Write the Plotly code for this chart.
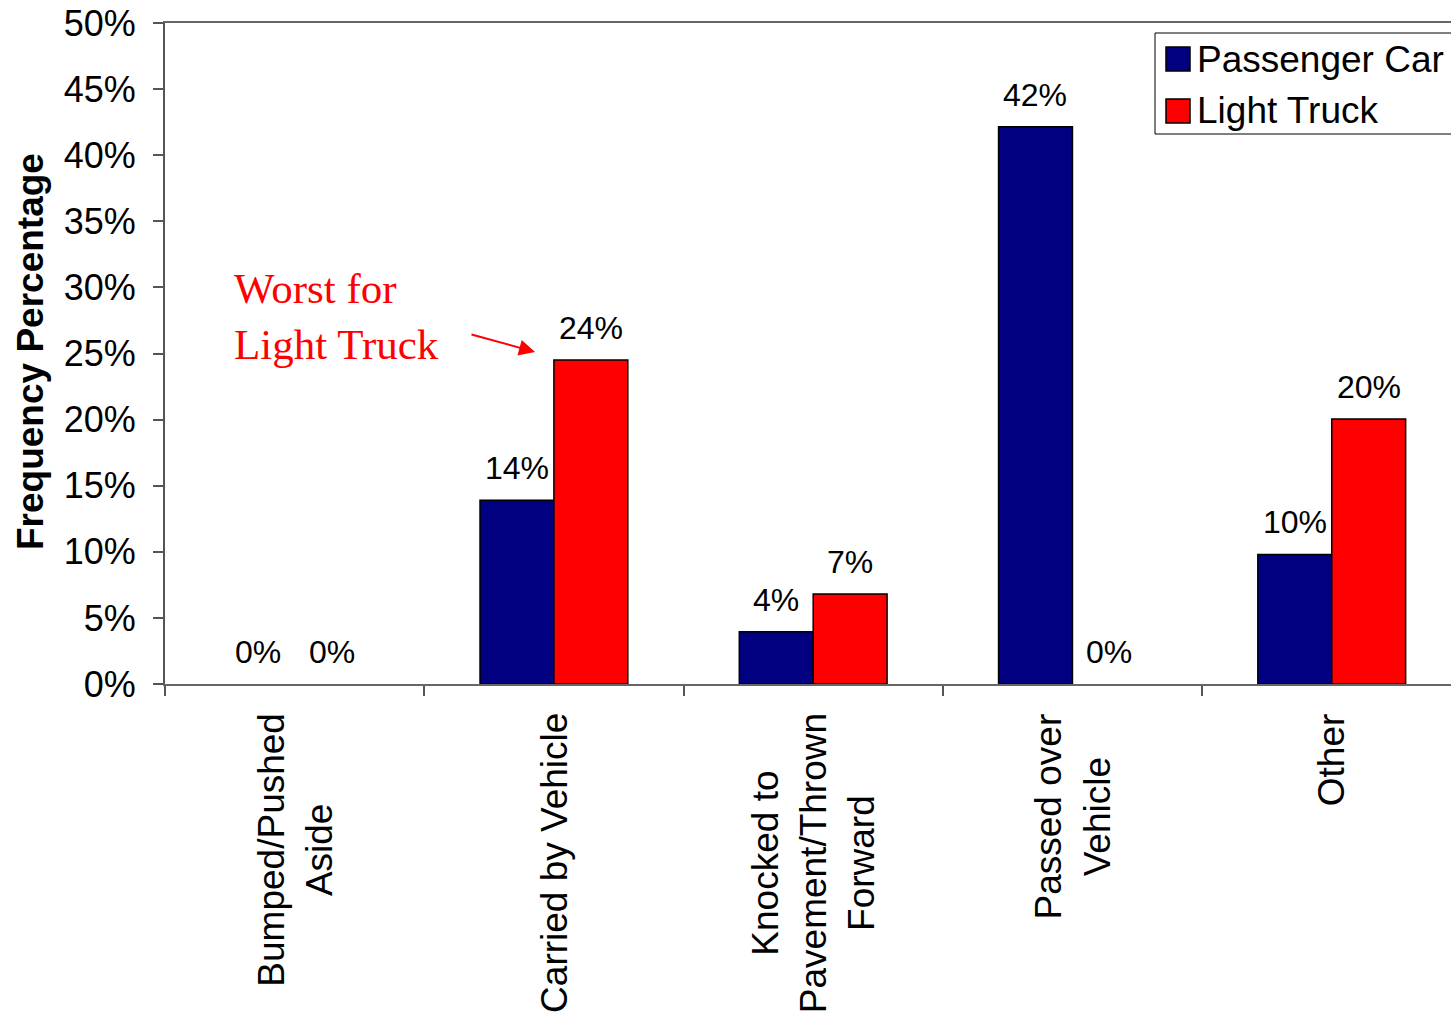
import plotly.graph_objects as go

categories = ["Bumped/Pushed<br>Aside", "Carried by Vehicle", "Knocked to<br>Pavement/Thrown<br>Forward",
              "Passed over<br>Vehicle", "Other"]
series_names = ["Passenger Car", "Light Truck"]
passenger_car = [0.0, 13.9, 3.95, 42.15, 9.8]
light_truck = [0.0, 24.5, 6.8, 0.0, 20.05]
pc_labels = ["0%", "14%", "4%", "42%", "10%"]
lt_labels = ["0%", "24%", "7%", "0%", "20%"]
y_ticks = [0, 5, 10, 15, 20, 25, 30, 35, 40, 45, 50]

W, H = 1451, 1016
L, R, T, B = 165, 0, 23, 332
PW = W - L - R
PH = H - T - B

def px(x):
    return (x - L) / PW

def py(y):
    return (H - B - y) / PH

NAVY = "#000080"
RED = "#FF0000"
FONT = "Arial, Liberation Sans, sans-serif"

xpos = list(range(len(categories)))

fig = go.Figure()
for vals, name, col in [(passenger_car, series_names[0], NAVY), (light_truck, series_names[1], RED)]:
    fig.add_trace(go.Bar(x=xpos, y=vals, name=name, marker_color=col,
                         marker_line=dict(color="black", width=[0 if v == 0 else 1.5 for v in vals]),
                         showlegend=False))

annotations = []
# data labels
for vals, labs, shift in [(passenger_car, pc_labels, -37), (light_truck, lt_labels, 37)]:
    for i, (v, t) in enumerate(zip(vals, labs)):
        annotations.append(dict(x=i, y=v, xref="x", yref="y", text=t, showarrow=False,
                                xshift=shift, yshift=12, yanchor="bottom",
                                font=dict(family=FONT, size=32, color="black")))
# category labels
for i, c in enumerate(categories):
    annotations.append(dict(x=i, y=py(711), xref="x", yref="paper", text=c, showarrow=False,
                            textangle=-90, yanchor="top", xanchor="center", align="center",
                            font=dict(family=FONT, size=37, color="black")))
# y axis title
annotations.append(dict(x=px(30), y=py(352), xref="paper", yref="paper",
                        text="<b>Frequency Percentage</b>", showarrow=False, textangle=-90,
                        xanchor="center", yanchor="middle",
                        font=dict(family=FONT, size=37, color="black")))
# callout
annotations.append(dict(x=px(232), y=py(316), xref="paper", yref="paper",
                        text="Worst for<br>Light Truck", showarrow=False, align="left",
                        xanchor="left", yanchor="middle",
                        font=dict(family="Times New Roman, Liberation Serif, serif", size=43, color=RED)))
annotations.append(dict(x=px(535), y=py(352), xref="paper", yref="paper", text="",
                        showarrow=True, ax=-65, ay=-18, arrowcolor=RED, arrowwidth=2,
                        arrowhead=2, arrowsize=1.6))
# legend texts
for name, yc in [(series_names[0], 60), (series_names[1], 111)]:
    annotations.append(dict(x=px(1195), y=py(yc), xref="paper", yref="paper", text=name,
                            showarrow=False, xanchor="left", yanchor="middle",
                            font=dict(family=FONT, size=37, color="black")))

shapes = [
    dict(type="rect", xref="paper", yref="paper", x0=px(1155), x1=px(1470), y0=py(134), y1=py(33),
         line=dict(color="black", width=1), fillcolor="white", layer="above"),
    dict(type="rect", xref="paper", yref="paper", x0=px(1166), x1=px(1190), y0=py(71), y1=py(47),
         line=dict(color="black", width=1.5), fillcolor=NAVY, layer="above"),
    dict(type="rect", xref="paper", yref="paper", x0=px(1166), x1=px(1190), y0=py(123), y1=py(99),
         line=dict(color="black", width=1.5), fillcolor=RED, layer="above"),
]

fig.update_layout(
    width=W, height=H,
    margin=dict(l=L, r=R, t=T, b=B, autoexpand=False),
    paper_bgcolor="white", plot_bgcolor="white",
    barmode="group", bargap=0.43, bargroupgap=0,
    showlegend=False,
    annotations=annotations, shapes=shapes,
    font=dict(family=FONT, color="black"),
)
fig.update_xaxes(type="linear", range=[-0.5, 4.46], tickmode="array",
                 tickvals=[i - 0.5 for i in range(6)], showticklabels=False,
                 ticks="outside", ticklen=10, tickcolor="#555", tickwidth=1.5,
                 showgrid=False, zeroline=False, showline=True, linecolor="#666", linewidth=2,
                 mirror=True)
fig.update_yaxes(range=[0, 50], tickmode="array", tickvals=y_ticks,
                 ticktext=[f"{v}%" for v in y_ticks], ticks="outside", ticklen=10,
                 tickcolor="#555", tickwidth=1.5, tickfont=dict(family=FONT, size=36, color="black"),
                 showgrid=False, zeroline=False, showline=True, linecolor="#555", linewidth=2,
                 ticklabelstandoff=10)

fig.write_html("out.html")
